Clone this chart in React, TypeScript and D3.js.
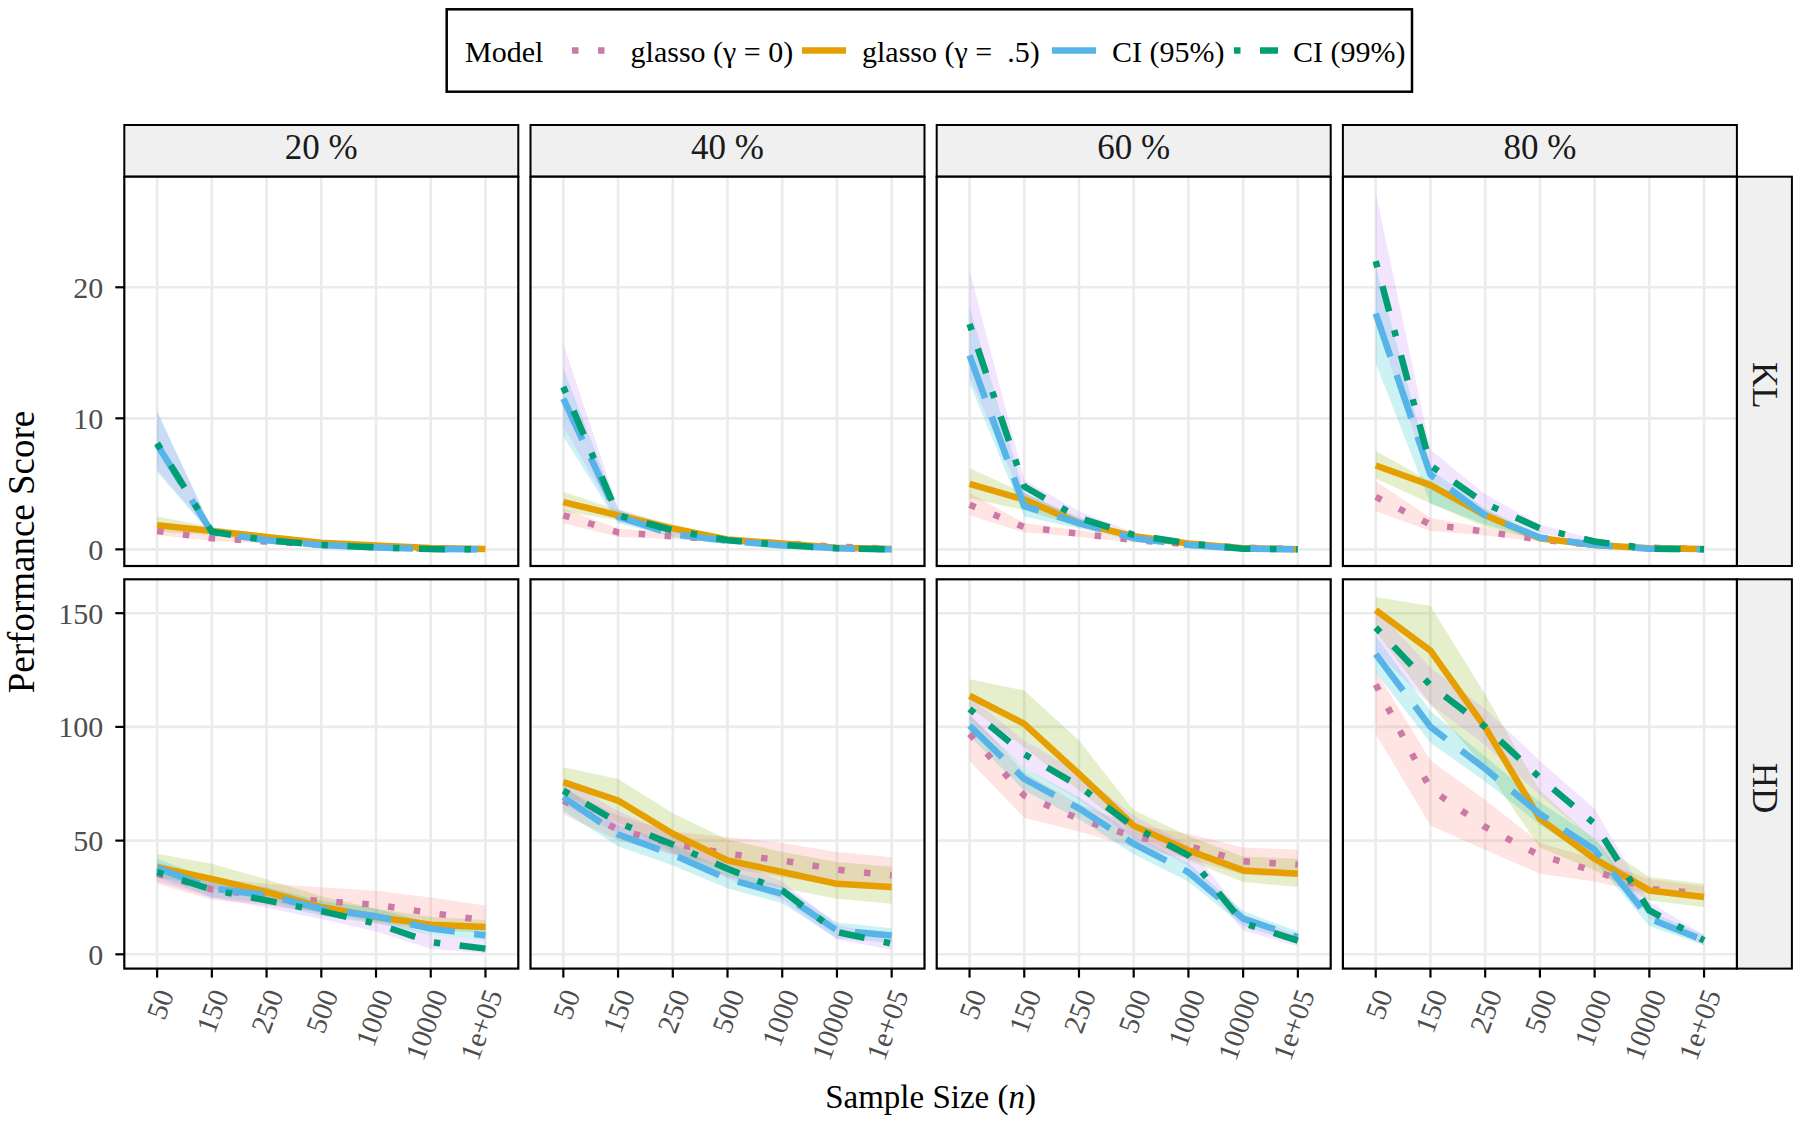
import React from "react";
import * as d3 from "d3";

const sampleSizes = ["50", "150", "250", "500", "1000", "10000", "1e+05"];
const missingLevels = ["20 %", "40 %", "60 %", "80 %"];
const metrics = ["KL", "HD"];
const modelLabels = ["glasso (γ = 0)", "glasso (γ =  .5)", "CI (95%)", "CI (99%)"];

const lineColors = ["#CC79A7", "#E69F00", "#56B4E9", "#009E73"];
const ribbonColors = ["#F8766D", "#7CAE00", "#00BFC4", "#C77CFF"];
const lineDashes = ["6.5 19.5", "none", "45.5 19.5", "6.5 19.5 26 19.5"];

const klTicks = [0, 10, 20];
const hdTicks = [0, 50, 100, 150];

// series order: glasso γ=0, glasso γ=.5, CI 95%, CI 99%
// each series: [mean, lower, upper] over the sample sizes
const kl20 = [
  [[1.4, 0.85, 0.6, 0.35, 0.2, 0.05, 0.01], [1.1, 0.65, 0.45, 0.25, 0.12, 0.02, 0], [1.8, 1.05, 0.75, 0.45, 0.28, 0.08, 0.02]],
  [[1.85, 1.4, 0.95, 0.5, 0.3, 0.1, 0.02], [1.35, 1.1, 0.75, 0.4, 0.22, 0.06, 0.01], [2.5, 1.7, 1.15, 0.62, 0.38, 0.14, 0.03]],
  [[8.0, 1.3, 0.7, 0.33, 0.15, 0.02, 0], [5.9, 1.1, 0.55, 0.25, 0.1, 0.01, 0], [10.6, 1.55, 0.85, 0.42, 0.2, 0.03, 0.01]],
  [[8.1, 1.35, 0.7, 0.33, 0.15, 0.02, 0], [6.1, 1.15, 0.55, 0.25, 0.1, 0.01, 0], [10.4, 1.6, 0.85, 0.42, 0.2, 0.03, 0.01]],
];
const kl40 = [
  [[2.6, 1.3, 1.0, 0.7, 0.45, 0.2, 0.05], [2.0, 0.95, 0.8, 0.55, 0.35, 0.14, 0.03], [3.1, 1.6, 1.25, 0.85, 0.55, 0.26, 0.07]],
  [[3.6, 2.6, 1.6, 0.75, 0.45, 0.13, 0.02], [2.9, 2.2, 1.35, 0.62, 0.37, 0.09, 0.01], [4.4, 3.0, 1.9, 0.9, 0.55, 0.17, 0.03]],
  [[11.5, 2.5, 1.15, 0.65, 0.3, 0.08, 0], [8.6, 2.0, 0.95, 0.5, 0.22, 0.05, 0], [13.8, 3.0, 1.4, 0.8, 0.4, 0.1, 0.01]],
  [[12.4, 2.6, 1.45, 0.7, 0.33, 0.08, 0], [9.4, 2.1, 1.2, 0.55, 0.25, 0.05, 0], [15.7, 3.1, 1.75, 0.85, 0.42, 0.1, 0.01]],
];
const kl60 = [
  [[3.4, 1.7, 1.2, 0.7, 0.4, 0.13, 0.03], [2.6, 1.3, 0.95, 0.55, 0.3, 0.09, 0.02], [4.3, 2.0, 1.45, 0.85, 0.5, 0.17, 0.04]],
  [[5.0, 3.8, 2.0, 1.0, 0.45, 0.08, 0.01], [3.9, 3.0, 1.7, 0.85, 0.37, 0.05, 0], [6.2, 4.3, 2.35, 1.15, 0.55, 0.11, 0.02]],
  [[14.8, 3.3, 2.0, 0.85, 0.33, 0.05, 0], [12.7, 2.5, 1.6, 0.7, 0.25, 0.03, 0], [18.5, 4.3, 2.45, 1.05, 0.42, 0.07, 0.01]],
  [[17.2, 4.8, 2.4, 1.1, 0.45, 0.05, 0], [13.2, 3.5, 1.9, 0.9, 0.35, 0.03, 0], [21.3, 5.3, 2.9, 1.3, 0.55, 0.07, 0.01]],
];
const kl80 = [
  [[4.0, 1.9, 1.35, 0.75, 0.33, 0.13, 0.03], [2.9, 1.4, 1.05, 0.6, 0.25, 0.09, 0.02], [5.2, 2.4, 1.65, 0.9, 0.42, 0.17, 0.04]],
  [[6.4, 4.9, 2.6, 0.85, 0.33, 0.08, 0.02], [5.4, 3.5, 1.7, 0.7, 0.25, 0.05, 0.01], [7.5, 5.2, 3.0, 1.0, 0.42, 0.11, 0.03]],
  [[18.0, 5.7, 2.6, 0.9, 0.33, 0.05, 0], [14.2, 3.5, 1.9, 0.7, 0.25, 0.03, 0], [21.6, 6.1, 3.1, 1.15, 0.42, 0.07, 0.01]],
  [[22.0, 6.4, 3.5, 1.6, 0.6, 0.05, 0], [17.3, 5.3, 2.9, 1.25, 0.45, 0.03, 0], [27.2, 7.6, 4.2, 1.9, 0.75, 0.07, 0.01]],
];
const hd20 = [
  [[35.4, 28.5, 25.6, 23.4, 21.8, 18.2, 14.9], [31, 24, 21.5, 18.5, 16.5, 13.5, 11], [40, 33.5, 31, 29.5, 28, 25, 21.5]],
  [[38.3, 33.2, 27.4, 20.8, 16.4, 13.0, 12.0], [34, 29, 24, 18, 14, 10.5, 9.5], [44.2, 39.8, 33, 25.5, 20, 16.5, 15]],
  [[38, 29, 26, 20, 16.7, 11.3, 8.3], [34, 25, 22.5, 17, 13.5, 8.5, 6], [42, 33, 29.5, 23.5, 20, 14, 11.5]],
  [[36.2, 28.4, 23.7, 19, 13.5, 5.4, 2.5], [32, 25, 20.5, 15.5, 10, 2.5, 0.5], [40.5, 32.5, 27.5, 22, 17, 8.5, 6]],
];
const hd40 = [
  [[67.6, 54.7, 48.6, 44.2, 41.3, 37.2, 34.7], [61.5, 50, 44, 38, 34, 30, 28], [73, 61, 54, 51.5, 49, 45, 42.7]],
  [[75.7, 67.6, 53, 41.3, 36.2, 31.0, 29.6], [70.5, 58, 45, 34, 29, 24.4, 22.2], [82.3, 77.1, 62, 50.5, 45, 40.6, 38.5]],
  [[69.1, 52.7, 43.9, 33.2, 26.6, 10.5, 8.3], [63, 47.5, 39, 29, 22.5, 7, 5], [74, 57, 48.5, 37, 30, 14, 11.5]],
  [[72, 58, 48.3, 37.6, 28.1, 9.8, 4.7], [66, 53, 44, 33.5, 24, 6.5, 2], [77, 63, 52.5, 41.5, 32, 13, 7.5]],
];
const hd60 = [
  [[96.9, 69.8, 59.6, 51.8, 47.6, 40.9, 39.4], [85, 60, 54, 47, 42, 35, 34], [106, 80, 66, 57, 53, 47, 46]],
  [[113.7, 101.3, 79.3, 56.6, 45.7, 36.9, 35.4], [108.5, 91, 72, 53, 41.3, 31.8, 29.6], [121, 116, 94, 63.5, 52, 43, 42]],
  [[100.6, 77.1, 64.2, 48.6, 36.1, 15.7, 7.6], [96, 72, 59.5, 44, 32, 12.5, 5], [105, 82, 69, 53, 40, 19, 10]],
  [[107.9, 88, 74, 56, 43.5, 13.8, 6.0], [103, 82, 68, 51, 39, 10.5, 3.5], [113, 94, 80, 61, 48, 17.5, 8.5]],
];
const hd80 = [
  [[118.6, 72.7, 56, 43.5, 36.6, 28.8, 26.6], [96.9, 56.6, 46, 35.4, 32, 26.5, 24.5], [124.7, 85.2, 68, 49, 42, 33, 30]],
  [[151.3, 133.5, 99.8, 59.6, 42, 28.1, 25.2], [142, 110, 82, 47, 37, 23.7, 20.8], [157.1, 153.2, 114.4, 72, 50, 34, 31]],
  [[132, 100, 81.6, 61.7, 46, 15.7, 6.1], [124, 93, 76, 57, 41, 12.5, 4], [140, 107, 87, 67, 51, 19, 8.5]],
  [[143.7, 118.3, 100, 77.6, 57.4, 19.3, 6.1], [133, 110, 92, 70, 50, 16, 4], [152, 126, 108, 85, 64, 23, 8.5]],
];

const panelRows = [
  { metric: "KL", panels: [kl20, kl40, kl60, kl80], domain: [-1.27, 28.44], ticks: klTicks },
  { metric: "HD", panels: [hd20, hd40, hd60, hd80], domain: [-6.28, 164.9], ticks: hdTicks },
];

const FONT = "'Liberation Serif', 'Times New Roman', serif";

const W = 1800;
const H = 1123;
const panelW = 394;
const panelH = 389.3;
const colStart = 124.3;
const colStep = 406.2;
const rowStart = 176.7;
const rowStep = 402.6;
const stripTop = 125;
const stripRightW = 55;

const Panel = ({ data, row, col, domain, ticks }) => {
  const left = colStart + col * colStep;
  const top = rowStart + row * rowStep;
  const x = d3.scalePoint().domain(sampleSizes).range([left, left + panelW]).padding(0.6);
  const y = d3.scaleLinear().domain(domain).range([top + panelH, top]);
  const clipId = `clip-${row}-${col}`;

  const area = d3.area()
    .x((d, i) => x(sampleSizes[i]))
    .y0((d) => y(d[0]))
    .y1((d) => y(d[1]));
  const line = d3.line()
    .x((d, i) => x(sampleSizes[i]))
    .y((d) => y(d));

  return (
    <g>
      <defs>
        <clipPath id={clipId}>
          <rect x={left} y={top} width={panelW} height={panelH} />
        </clipPath>
      </defs>
      <rect x={left} y={top} width={panelW} height={panelH} fill="white" />
      <g clipPath={`url(#${clipId})`}>
        {ticks.map((t) => (
          <line key={"h" + t} x1={left} x2={left + panelW} y1={y(t)} y2={y(t)} stroke="#EBEBEB" strokeWidth={2.6} />
        ))}
        {sampleSizes.map((s) => (
          <line key={"v" + s} x1={x(s)} x2={x(s)} y1={top} y2={top + panelH} stroke="#EBEBEB" strokeWidth={2.6} />
        ))}
        {data.map((series, k) => (
          <path
            key={"r" + k}
            d={area(series[1].map((lo, i) => [lo, series[2][i]]))}
            fill={ribbonColors[k]}
            fillOpacity={0.2}
          />
        ))}
        {data.map((series, k) => (
          <path
            key={"l" + k}
            d={line(series[0])}
            fill="none"
            stroke={lineColors[k]}
            strokeWidth={6.5}
            strokeDasharray={lineDashes[k]}
            strokeLinejoin="round"
            strokeLinecap="butt"
          />
        ))}
      </g>
      <rect x={left} y={top} width={panelW} height={panelH} fill="none" stroke="#000" strokeWidth={2.2} />

      {col === 0 &&
        ticks.map((t) => (
          <g key={"yt" + t}>
            <line x1={left - 9} x2={left} y1={y(t)} y2={y(t)} stroke="#000" strokeWidth={2.2} />
            <text x={left - 21} y={y(t)} textAnchor="end" dominantBaseline="central" fontSize={30} fill="#4D4D4D" fontFamily={FONT}>
              {t}
            </text>
          </g>
        ))}

      {row === 1 &&
        sampleSizes.map((s) => (
          <g key={"xt" + s}>
            <line x1={x(s)} x2={x(s)} y1={top + panelH} y2={top + panelH + 9} stroke="#000" strokeWidth={2.2} />
            <text
              transform={`translate(${x(s) + 8},${top + panelH + 22}) rotate(-70)`}
              textAnchor="end"
              dominantBaseline="central"
              fontSize={29}
              fill="#4D4D4D"
              fontFamily={FONT}
            >
              {s}
            </text>
          </g>
        ))}
    </g>
  );
};

const Legend = () => {
  const keyX = [572, 802, 1052, 1234];
  const labelX = [630.6, 862, 1112, 1293];
  const keyY = 50.5;
  return (
    <g fontFamily={FONT} fontSize={30}>
      <rect x={446.7} y={9.3} width={965.3} height={82.4} fill="white" stroke="#000" strokeWidth={2.5} />
      <text x={465} y={61.5}>Model</text>
      {modelLabels.map((m, k) => (
        <g key={m}>
          <line
            x1={keyX[k]}
            x2={keyX[k] + 44}
            y1={keyY}
            y2={keyY}
            stroke={lineColors[k]}
            strokeWidth={6.5}
            strokeDasharray={lineDashes[k]}
            strokeLinecap="butt"
          />
          <text x={labelX[k]} y={61.5} style={{ whiteSpace: "pre" }}>
            {m}
          </text>
        </g>
      ))}
    </g>
  );
};

const App = () => {
  return (
    <svg width={W} height={H} style={{ position: "absolute", left: 0, top: 0, background: "white" }}>
      <rect width={W} height={H} fill="white" />
      <Legend />

      {missingLevels.map((lvl, c) => {
        const left = colStart + c * colStep;
        return (
          <g key={lvl}>
            <rect x={left} y={stripTop} width={panelW} height={rowStart - stripTop} fill="#F0F0F0" stroke="#000" strokeWidth={2} />
            <text x={left + panelW / 2} y={159} textAnchor="middle" fontSize={35} fontFamily={FONT} fill="#1A1A1A">
              {lvl}
            </text>
          </g>
        );
      })}

      {panelRows.map((r, ri) => {
        const top = rowStart + ri * rowStep;
        const sx = colStart + 3 * colStep + panelW;
        return (
          <g key={r.metric}>
            <rect x={sx} y={top} width={stripRightW} height={panelH} fill="#F0F0F0" stroke="#000" strokeWidth={2} />
            <text
              transform={`translate(${sx + stripRightW / 2},${top + panelH / 2 + 14}) rotate(90)`}
              textAnchor="middle"
              dominantBaseline="central"
              fontSize={35}
              fontFamily={FONT}
              fill="#1A1A1A"
            >
              {metrics[ri]}
            </text>
            {r.panels.map((p, ci) => (
              <Panel key={ci} data={p} row={ri} col={ci} domain={r.domain} ticks={r.ticks} />
            ))}
          </g>
        );
      })}

      <text transform="translate(34,552) rotate(-90)" textAnchor="middle" fontSize={37} fontFamily={FONT}>
        Performance Score
      </text>
      <text x={colStart + (3 * colStep + panelW) / 2} y={1108} textAnchor="middle" fontSize={33} fontFamily={FONT}>
        Sample Size (<tspan fontStyle="italic">n</tspan>)
      </text>
    </svg>
  );
};

export default App;
